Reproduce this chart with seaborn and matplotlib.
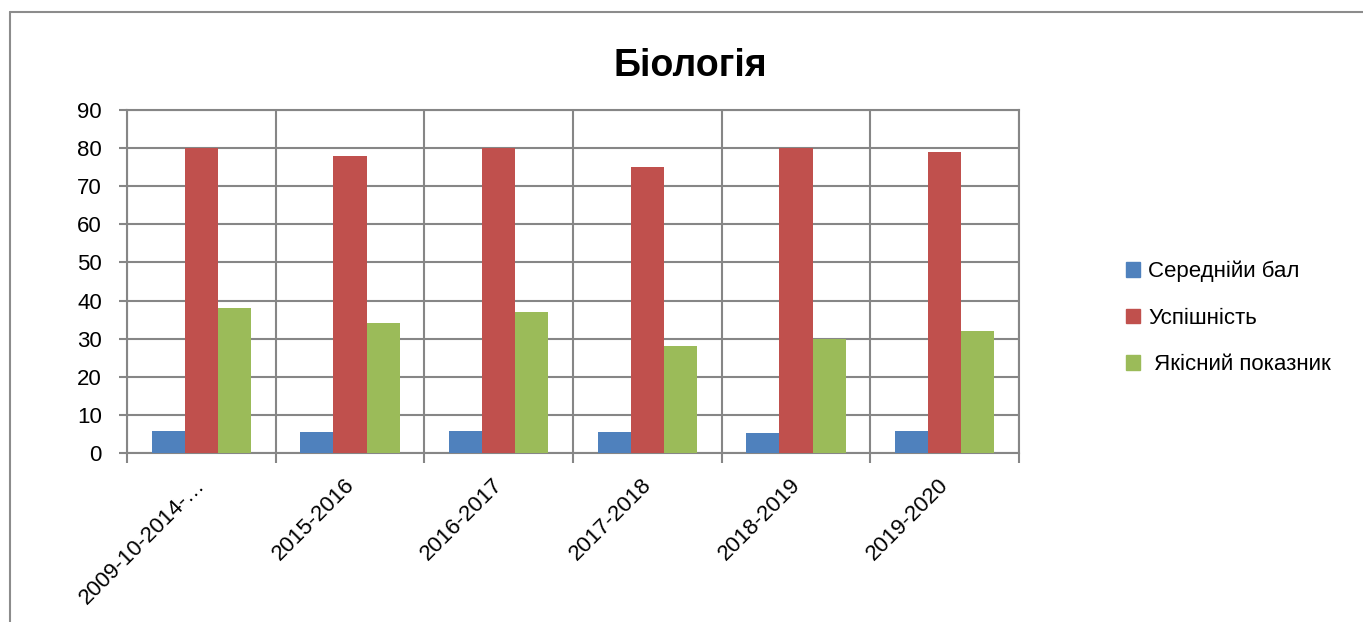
import numpy as np
import pandas as pd
import matplotlib
matplotlib.use("Agg")
import matplotlib.pyplot as plt
import matplotlib.transforms as mtransforms
from matplotlib.lines import Line2D
import seaborn as sns

# chart data
years = ["2009-10-2014-…", "2015-2016", "2016-2017", "2017-2018", "2018-2019", "2019-2020"]
series = ["Середнійи бал", "Успішність", " Якісний показник"]
avg_score = [5.9, 5.6, 5.7, 5.4, 5.3, 5.8]
success = [80, 78, 80, 75, 80, 79]
quality = [38, 34, 37, 28, 30, 32]
colors = ["#4F81BD", "#C0504D", "#9BBB59"]

df = pd.DataFrame({
    "year": years * 3,
    "series": [series[0]] * 6 + [series[1]] * 6 + [series[2]] * 6,
    "value": avg_score + success + quality,
})

sns.set_style("white")
plt.rcParams["font.family"] = ["Liberation Sans", "DejaVu Sans"]
plt.rcParams["text.color"] = "black"
plt.rcParams["xtick.color"] = "black"
plt.rcParams["ytick.color"] = "black"

fig = plt.figure(figsize=(13.63, 6.22), dpi=100)
ax = fig.add_axes([127 / 1363, 1 - 453 / 622, (1019 - 127) / 1363, (453 - 110) / 622])

sns.barplot(data=df, x="year", y="value", hue="series", palette=colors,
            width=0.67, linewidth=0, saturation=1, ax=ax, zorder=3)

grid_c = "#868686"
ax.set_ylim(0, 90)
ax.set_yticks(np.arange(0, 91, 10))
ax.set_xlim(-0.5, len(years) - 0.5)
ax.set_xticks(np.arange(-0.5, len(years)), minor=True)
ax.grid(axis="y", color=grid_c, lw=1.5, zorder=0)
ax.grid(axis="x", which="minor", color=grid_c, lw=1.5, zorder=0)
ax.grid(axis="x", which="major", visible=False)
for s in ax.spines.values():
    s.set_color(grid_c)
    s.set_linewidth(1.5)

ax.tick_params(axis="y", which="major", left=True, length=6, width=1.5,
               color=grid_c, labelcolor="black", labelsize=16, pad=12)
ax.tick_params(axis="x", which="minor", bottom=True, length=7, width=1.5, color=grid_c)
ax.tick_params(axis="x", which="major", length=0, labelcolor="black", labelsize=16, pad=21)
ax.set_xticks(range(len(years)))
ax.set_xticklabels(years, rotation=45, ha="right", va="center", rotation_mode="anchor")
offset = mtransforms.ScaledTranslation(1 / 100, 0, fig.dpi_scale_trans)
for lab in ax.get_xticklabels():
    lab.set_transform(lab.get_transform() + offset)
ax.set_xlabel("")
ax.set_ylabel("")

ax.legend_.remove()
handles = [plt.Rectangle((0, 0), 1, 1, color=c) for c in colors]
fig.legend(handles, series, loc="center left", bbox_to_anchor=(1106 / 1363, 1 - 318 / 622),
           frameon=False, fontsize=16, handlelength=0.65, handleheight=0.65,
           handletextpad=0.35, labelspacing=1.15, labelcolor="black")

fig.text(690 / 1363, 1 - 66 / 622, "Біологія", ha="center", va="center",
         fontsize=27, fontweight="bold", color="black")

# outer chart border (only top and left visible)
fig.add_artist(Line2D([10 / 1363, 1], [1 - 12 / 622, 1 - 12 / 622], color="#8c8c8c", lw=1.5,
                      transform=fig.transFigure))
fig.add_artist(Line2D([10 / 1363, 10 / 1363], [0, 1 - 12 / 622], color="#8c8c8c", lw=1.5,
                      transform=fig.transFigure))

fig.savefig("out.png", dpi=100)
